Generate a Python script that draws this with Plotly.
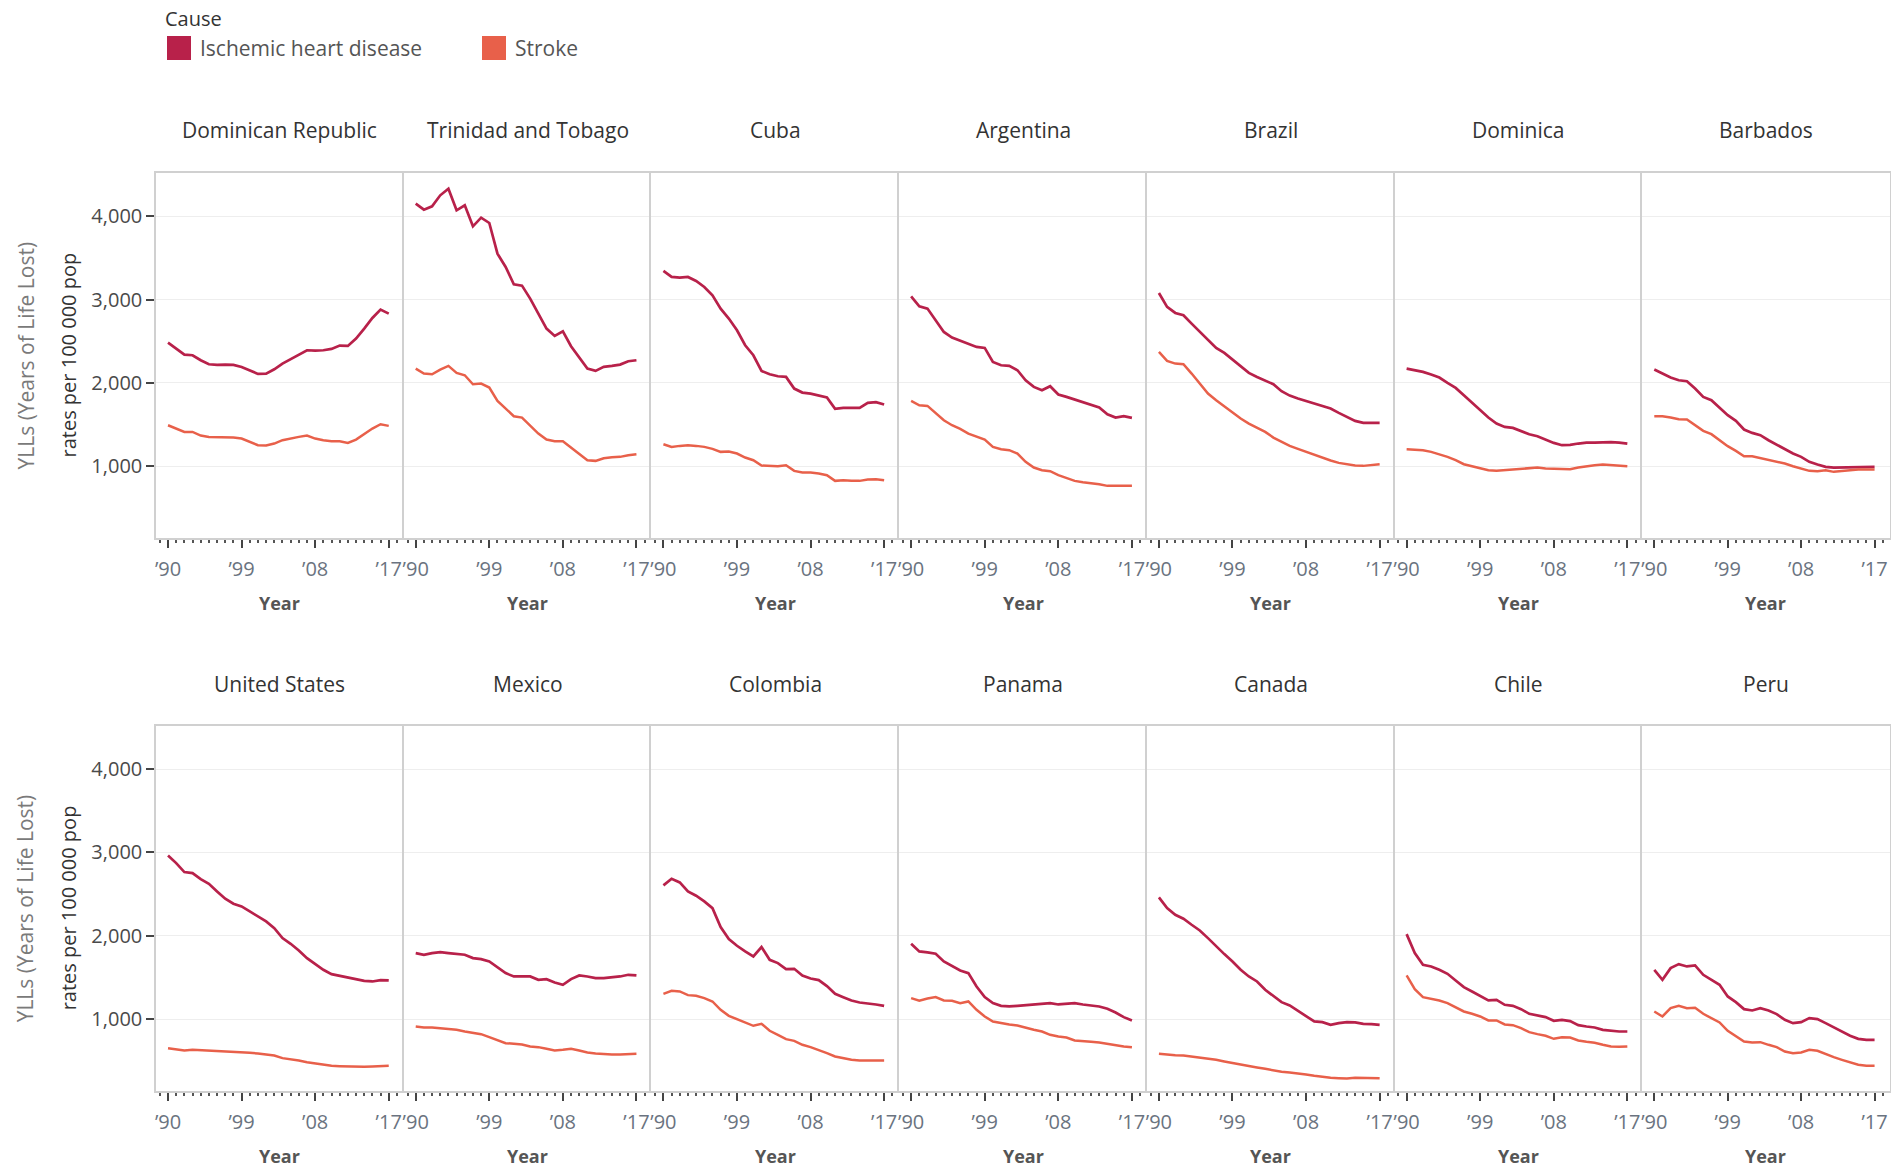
import plotly.graph_objects as go

years = list(range(1990, 2018))

countries_row1 = ["Dominican Republic", "Trinidad and Tobago", "Cuba", "Argentina", "Brazil", "Dominica", "Barbados"]
countries_row2 = ["United States", "Mexico", "Colombia", "Panama", "Canada", "Chile", "Peru"]

ihd_dominican_republic = [2484, 2412, 2340, 2332, 2272, 2224, 2216, 2220, 2216, 2192, 2152, 2108, 2112, 2164, 2232, 2284, 2340, 2392, 2388, 2392, 2408, 2448, 2444, 2532, 2652, 2780, 2880, 2832]
stroke_dominican_republic = [1492, 1452, 1412, 1412, 1368, 1352, 1352, 1352, 1344, 1332, 1292, 1252, 1248, 1272, 1312, 1336, 1352, 1368, 1332, 1312, 1300, 1300, 1280, 1320, 1384, 1452, 1504, 1484]

ihd_trinidad = [4152, 4080, 4120, 4252, 4332, 4072, 4132, 3880, 3984, 3920, 3552, 3392, 3184, 3168, 3012, 2832, 2652, 2564, 2620, 2440, 2304, 2172, 2144, 2192, 2204, 2220, 2260, 2272]
stroke_trinidad = [2172, 2112, 2104, 2160, 2204, 2120, 2092, 1984, 1992, 1944, 1784, 1692, 1600, 1584, 1492, 1392, 1320, 1300, 1300, 1224, 1144, 1072, 1064, 1096, 1108, 1112, 1132, 1144]

ihd_cuba = [3344, 3272, 3264, 3272, 3224, 3152, 3052, 2892, 2772, 2632, 2452, 2332, 2144, 2104, 2080, 2072, 1932, 1884, 1872, 1848, 1824, 1688, 1700, 1700, 1700, 1760, 1768, 1740]
stroke_cuba = [1264, 1232, 1244, 1252, 1244, 1232, 1208, 1172, 1176, 1152, 1104, 1072, 1008, 1000, 1000, 1012, 944, 924, 924, 912, 892, 824, 832, 824, 824, 840, 844, 832]

ihd_argentina = [3040, 2920, 2892, 2752, 2612, 2544, 2504, 2464, 2432, 2420, 2252, 2212, 2204, 2152, 2032, 1952, 1912, 1960, 1860, 1832, 1800, 1772, 1744, 1704, 1624, 1584, 1600, 1580]
stroke_argentina = [1784, 1732, 1724, 1640, 1552, 1492, 1448, 1392, 1352, 1320, 1232, 1204, 1192, 1152, 1052, 984, 952, 940, 892, 860, 824, 808, 800, 784, 764, 764, 768, 764]

ihd_brazil = [3080, 2912, 2840, 2812, 2712, 2612, 2512, 2420, 2360, 2280, 2192, 2120, 2072, 2032, 1984, 1900, 1848, 1812, 1780, 1748, 1720, 1692, 1640, 1592, 1544, 1520, 1520, 1520]
stroke_brazil = [2372, 2264, 2232, 2224, 2112, 1992, 1872, 1792, 1720, 1640, 1572, 1512, 1464, 1412, 1344, 1292, 1244, 1208, 1172, 1132, 1100, 1068, 1040, 1020, 1008, 1004, 1012, 1024]

ihd_dominica = [2172, 2152, 2132, 2100, 2064, 2000, 1940, 1852, 1760, 1680, 1584, 1512, 1472, 1460, 1424, 1384, 1360, 1320, 1280, 1252, 1256, 1272, 1284, 1284, 1288, 1288, 1284, 1272]
stroke_dominica = [1204, 1200, 1192, 1172, 1144, 1112, 1072, 1024, 1000, 972, 952, 944, 952, 960, 972, 984, 984, 972, 968, 964, 964, 984, 1000, 1012, 1020, 1012, 1004, 1000]

ihd_barbados = [2160, 2112, 2064, 2032, 2020, 1932, 1832, 1792, 1704, 1612, 1544, 1440, 1400, 1372, 1312, 1260, 1200, 1152, 1112, 1052, 1020, 992, 984, 984, 992, 992, 992, 992]
stroke_barbados = [1600, 1600, 1584, 1564, 1560, 1492, 1424, 1384, 1312, 1240, 1184, 1120, 1120, 1100, 1072, 1056, 1032, 1000, 968, 944, 940, 952, 932, 944, 952, 960, 960, 960]

ihd_united_states = [2964, 2872, 2764, 2752, 2680, 2624, 2532, 2444, 2384, 2352, 2292, 2232, 2172, 2092, 1972, 1904, 1824, 1732, 1664, 1592, 1540, 1520, 1492, 1472, 1460, 1452, 1468, 1464]
stroke_united_states = [652, 640, 624, 632, 628, 624, 616, 608, 604, 600, 596, 588, 576, 564, 532, 520, 504, 484, 468, 452, 440, 436, 432, 428, 428, 432, 440, 440]

ihd_mexico = [1792, 1772, 1792, 1804, 1792, 1780, 1772, 1732, 1720, 1692, 1624, 1552, 1512, 1512, 1512, 1472, 1480, 1440, 1412, 1480, 1524, 1512, 1492, 1492, 1500, 1512, 1532, 1524]
stroke_mexico = [912, 900, 900, 892, 880, 872, 852, 840, 820, 784, 744, 712, 704, 696, 672, 664, 644, 624, 632, 644, 624, 600, 588, 580, 576, 576, 580, 584]

ihd_colombia = [2604, 2684, 2640, 2532, 2480, 2412, 2332, 2104, 1960, 1880, 1812, 1752, 1864, 1712, 1672, 1600, 1604, 1524, 1488, 1468, 1396, 1304, 1264, 1224, 1200, 1192, 1176, 1160]
stroke_colombia = [1304, 1340, 1332, 1288, 1280, 1252, 1212, 1112, 1040, 1000, 960, 920, 944, 860, 812, 760, 740, 692, 664, 632, 592, 552, 532, 512, 504, 504, 504, 504]

ihd_panama = [1904, 1812, 1800, 1784, 1692, 1640, 1584, 1552, 1392, 1264, 1192, 1160, 1152, 1160, 1168, 1172, 1184, 1192, 1176, 1180, 1192, 1176, 1164, 1152, 1124, 1080, 1024, 984]
stroke_panama = [1252, 1220, 1248, 1264, 1224, 1220, 1192, 1212, 1112, 1032, 972, 952, 936, 924, 896, 872, 852, 812, 792, 780, 744, 732, 728, 720, 704, 680, 672, 664]

ihd_canada = [2460, 2332, 2252, 2204, 2132, 2064, 1972, 1872, 1780, 1692, 1592, 1512, 1452, 1352, 1280, 1204, 1164, 1100, 1032, 972, 964, 932, 952, 964, 960, 944, 940, 932]
stroke_canada = [584, 572, 568, 564, 552, 544, 528, 512, 492, 472, 452, 436, 420, 404, 384, 368, 360, 352, 336, 320, 304, 296, 292, 288, 296, 296, 296, 292]

ihd_chile = [2020, 1792, 1652, 1632, 1592, 1544, 1464, 1384, 1332, 1280, 1224, 1232, 1172, 1160, 1120, 1064, 1040, 1024, 980, 992, 976, 928, 912, 900, 872, 860, 852, 852]
stroke_chile = [1524, 1360, 1264, 1248, 1224, 1192, 1140, 1092, 1064, 1032, 984, 984, 936, 928, 892, 844, 820, 800, 764, 784, 780, 744, 728, 716, 692, 672, 668, 672]

ihd_peru = [1592, 1472, 1612, 1660, 1632, 1644, 1532, 1472, 1412, 1272, 1204, 1120, 1104, 1132, 1104, 1060, 992, 952, 964, 1012, 1000, 952, 900, 852, 800, 764, 752, 752]
stroke_peru = [1092, 1032, 1132, 1160, 1132, 1136, 1064, 1012, 960, 860, 792, 732, 720, 724, 692, 664, 612, 592, 600, 632, 620, 580, 544, 512, 480, 452, 440, 440]

ihd_by_country = {
    "Dominican Republic": ihd_dominican_republic, "Trinidad and Tobago": ihd_trinidad, "Cuba": ihd_cuba,
    "Argentina": ihd_argentina, "Brazil": ihd_brazil, "Dominica": ihd_dominica, "Barbados": ihd_barbados,
    "United States": ihd_united_states, "Mexico": ihd_mexico, "Colombia": ihd_colombia, "Panama": ihd_panama,
    "Canada": ihd_canada, "Chile": ihd_chile, "Peru": ihd_peru,
}
stroke_by_country = {
    "Dominican Republic": stroke_dominican_republic, "Trinidad and Tobago": stroke_trinidad, "Cuba": stroke_cuba,
    "Argentina": stroke_argentina, "Brazil": stroke_brazil, "Dominica": stroke_dominica, "Barbados": stroke_barbados,
    "United States": stroke_united_states, "Mexico": stroke_mexico, "Colombia": stroke_colombia, "Panama": stroke_panama,
    "Canada": stroke_canada, "Chile": stroke_chile, "Peru": stroke_peru,
}

x_tickvals = [1990, 1999, 2008, 2017]
x_ticktext = ["\u201990", "\u201999", "\u201908", "\u201917"]
y_tickvals = [1000, 2000, 3000, 4000]

IHD_COLOR = "#B8214A"
STROKE_COLOR = "#E8604A"
FONT = "Open Sans"

W, H = 1891, 1168
xb = [156, 403.7, 651.4, 899.1, 1146.9, 1394.6, 1642.3, 1889.5]
rows = [(173, 538), (725.7, 1091)]
XRANGE = [1988.53, 2018.83]
YRANGE = [138, 4520]


def px(x):
    return x / W


def py(y):
    return 1 - y / H


fig = go.Figure()
layout = {}
annotations = []
shapes = []

for r, countries in enumerate([countries_row1, countries_row2]):
    top, bot = rows[r]
    for c, country in enumerate(countries):
        idx = r * 7 + c + 1
        xa = "x" if idx == 1 else f"x{idx}"
        ya = "y" if idx == 1 else f"y{idx}"
        xkey = "xaxis" if idx == 1 else f"xaxis{idx}"
        ykey = "yaxis" if idx == 1 else f"yaxis{idx}"
        fig.add_trace(go.Scatter(x=years, y=ihd_by_country[country], mode="lines",
                                 line=dict(color=IHD_COLOR, width=2.7), name="Ischemic heart disease",
                                 showlegend=False, xaxis=xa, yaxis=ya))
        fig.add_trace(go.Scatter(x=years, y=stroke_by_country[country], mode="lines",
                                 line=dict(color=STROKE_COLOR, width=2.5), name="Stroke",
                                 showlegend=False, xaxis=xa, yaxis=ya))
        layout[xkey] = dict(
            domain=[px(xb[c]), px(xb[c + 1])], range=XRANGE, anchor=ya, automargin=False,
            showline=True, linecolor="#D0D0D0", linewidth=1.5, mirror=True,
            showgrid=False, zeroline=False,
            tickmode="array", tickvals=x_tickvals, ticktext=x_ticktext,
            ticks="outside", ticklen=8, tickwidth=2, tickcolor="#444",
            ticklabelstandoff=4,
            tickfont=dict(family=FONT, size=20, color="#6A7380"),
            minor=dict(tickmode="linear", tick0=1990, dtick=1, ticks="outside", ticklen=3,
                       tickwidth=2, tickcolor="#555"),
        )
        layout[ykey] = dict(
            domain=[py(bot), py(top)], range=YRANGE, anchor=xa, automargin=False,
            showline=True, linecolor="#D0D0D0", linewidth=1.5, mirror=(c == 6),
            showgrid=True, gridcolor="#EEEEEE", gridwidth=1, zeroline=False,
            tickmode="array", tickvals=y_tickvals, tickformat=",d",
            ticks="outside" if c == 0 else "", ticklen=8, tickwidth=2, tickcolor="#444",
            showticklabels=(c == 0),
            tickfont=dict(family=FONT, size=20, color="#4A4A4A"),
        )
        cx = px((xb[c] + xb[c + 1]) / 2)
        annotations.append(dict(text=country, x=cx, y=py(130 if r == 0 else 684),
                                xref="paper", yref="paper", showarrow=False,
                                font=dict(family=FONT, size=21, color="#333"),
                                xanchor="center", yanchor="middle"))
        annotations.append(dict(text="<b>Year</b>", x=cx, y=py(bot + 65),
                                xref="paper", yref="paper", showarrow=False,
                                font=dict(family=FONT, size=18, color="#555"),
                                xanchor="center", yanchor="middle"))
    ymid = py((top + bot) / 2)
    annotations.append(dict(text="YLLs (Years of Life Lost)", x=px(25), y=ymid, textangle=-90,
                            xref="paper", yref="paper", showarrow=False,
                            font=dict(family=FONT, size=21, color="#7A7A7A"),
                            xanchor="center", yanchor="middle"))
    annotations.append(dict(text="rates per 100 000 pop", x=px(68), y=ymid, textangle=-90,
                            xref="paper", yref="paper", showarrow=False,
                            font=dict(family=FONT, size=20, color="#333"),
                            xanchor="center", yanchor="middle"))

# Legend (drawn manually)
annotations.append(dict(text="Cause", x=px(163), y=py(18), xref="paper", yref="paper",
                        showarrow=False, xanchor="left", yanchor="middle",
                        font=dict(family=FONT, size=20, color="#333")))
legend_items = [("Ischemic heart disease", IHD_COLOR, 167), ("Stroke", STROKE_COLOR, 482)]
for label, color, lx in legend_items:
    shapes.append(dict(type="rect", xref="paper", yref="paper",
                       x0=px(lx), x1=px(lx + 24), y0=py(60), y1=py(36),
                       fillcolor=color, line=dict(width=0)))
    annotations.append(dict(text=label, x=px(lx + 31), y=py(48), xref="paper", yref="paper",
                            showarrow=False, xanchor="left", yanchor="middle",
                            font=dict(family=FONT, size=21, color="#555")))

fig.update_layout(**layout)
fig.update_layout(
    width=W, height=H, margin=dict(l=0, r=0, t=0, b=0),
    paper_bgcolor="white", plot_bgcolor="white",
    annotations=annotations, shapes=shapes, showlegend=False,
)
fig.write_html("out.html", config={"displayModeBar": False},
               post_script="document.body.style.margin='0';document.body.style.overflow='hidden';")
